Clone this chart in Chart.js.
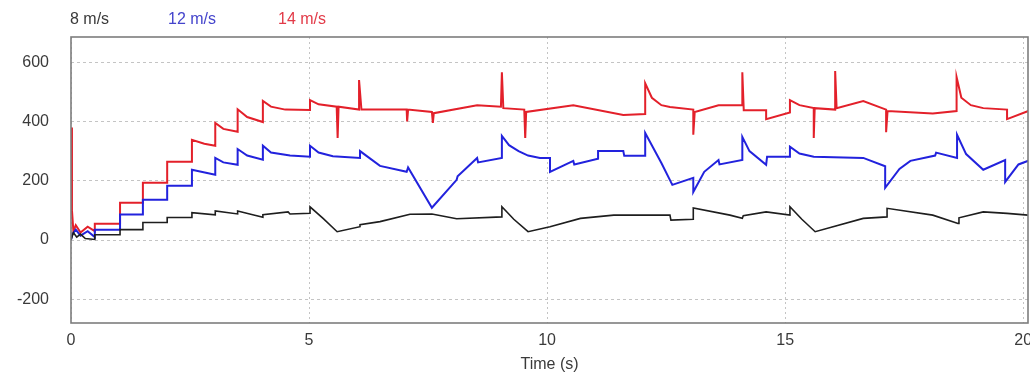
<!DOCTYPE html>
<html>
<head>
<meta charset="utf-8">
<script src="https://cdn.jsdelivr.net/npm/chart.js@4"></script>
<style>
  html, body { margin: 0; padding: 0; background: #fff; }
  #wrap { width: 1030px; height: 374px; }
</style>
</head>
<body>
<div id="wrap"><canvas id="windChart"></canvas></div>
<script>
// valores (tempo em s)
const seriesNames = ['8 m/s', '12 m/s', '14 m/s'];
const xTicks = [0, 5, 10, 15, 20];
const yTicks = [-200, 0, 200, 400, 600];

const t8 = [0, 0.05, 0.12, 0.2, 0.3, 0.5, 0.5, 1.03, 1.03, 1.51, 1.51, 2.02, 2.02, 2.54, 2.54, 3.03, 3.03, 3.5, 3.5, 4.03, 4.03, 4.56, 4.6, 5.02, 5.02, 5.3, 5.59, 6.07, 6.07, 6.49, 7.12, 7.58, 8.1, 9.05, 9.05, 9.3, 9.6, 10.06, 10.7, 11.4, 12.1, 12.58, 12.6, 13.07, 13.07, 13.84, 14.1, 14.12, 14.6, 15.1, 15.1, 15.35, 15.63, 16.64, 17.14, 17.14, 18.1, 18.63, 18.65, 19.16, 19.66, 20.1];
const v8 = [0, 25, 10, 20, 5, 2, 18, 18, 35, 35, 59, 59, 76, 76, 92, 85, 98, 88, 98, 77, 85, 95, 88, 90, 112, 72, 28, 45, 52, 62, 87, 88, 72, 78, 112, 70, 28, 45, 73, 84, 84, 84, 67, 70, 108, 84, 73, 82, 95, 84, 112, 70, 28, 73, 78, 107, 84, 56, 75, 95, 90, 84];

const t12 = [0, 0.03, 0.1, 0.2, 0.35, 0.5, 0.5, 1.03, 1.03, 1.51, 1.51, 2.02, 2.02, 2.54, 2.54, 3.03, 3.03, 3.2, 3.5, 3.5, 3.7, 4.03, 4.03, 4.2, 4.6, 5.02, 5.02, 5.2, 5.5, 6.07, 6.07, 6.49, 7.05, 7.08, 7.58, 8.1, 8.12, 8.53, 8.55, 9.05, 9.05, 9.2, 9.4, 9.6, 9.85, 10.06, 10.06, 10.55, 10.57, 11.07, 11.07, 11.6, 11.62, 12.06, 12.06, 12.4, 12.63, 13.07, 13.07, 13.3, 13.6, 13.62, 14.1, 14.1, 14.25, 14.6, 14.62, 15.1, 15.1, 15.3, 15.6, 16.64, 17.1, 17.1, 17.4, 17.63, 18.15, 18.17, 18.61, 18.61, 18.8, 19.16, 19.62, 19.62, 19.9, 20.15];
const v12 = [0, 20, 35, 15, 30, 10, 35, 35, 86, 86, 136, 136, 183, 183, 237, 220, 277, 262, 254, 307, 285, 271, 318, 295, 285, 281, 318, 295, 283, 277, 300, 250, 230, 245, 109, 203, 215, 277, 262, 277, 351, 320, 300, 285, 277, 277, 230, 267, 255, 274, 300, 300, 284, 284, 361, 260, 186, 210, 162, 230, 270, 255, 270, 348, 300, 254, 281, 281, 315, 292, 281, 277, 249, 176, 240, 267, 285, 295, 277, 355, 290, 237, 270, 196, 255, 270];

const t14 = [0, 0.02, 0.05, 0.1, 0.2, 0.35, 0.5, 0.5, 1.03, 1.03, 1.51, 1.51, 2.02, 2.02, 2.54, 2.54, 2.8, 3.03, 3.03, 3.2, 3.5, 3.5, 3.7, 4.03, 4.03, 4.2, 4.5, 5.02, 5.02, 5.2, 5.58, 5.6, 5.62, 6.05, 6.05, 6.1, 7.05, 7.06, 7.08, 7.58, 7.6, 7.62, 8.53, 9.03, 9.05, 9.08, 9.52, 9.54, 9.56, 10.55, 11.6, 12.06, 12.06, 12.2, 12.4, 12.58, 13.07, 13.07, 13.1, 13.6, 14.1, 14.1, 14.13, 14.6, 14.6, 15.1, 15.1, 15.3, 15.6, 15.6, 15.62, 16.05, 16.05, 16.08, 16.64, 17.12, 17.12, 17.15, 18.1, 18.6, 18.6, 18.7, 18.9, 19.16, 19.66, 19.66, 20.15];
const v14 = [380, 100, 30, 50, 25, 45, 30, 55, 55, 126, 126, 193, 193, 264, 264, 338, 325, 318, 395, 375, 365, 441, 415, 398, 469, 450, 440, 439, 472, 458, 450, 344, 450, 440, 540, 440, 440, 400, 440, 432, 395, 428, 455, 450, 566, 445, 440, 344, 432, 455, 422, 425, 529, 480, 455, 449, 440, 355, 432, 455, 455, 566, 438, 438, 408, 430, 472, 455, 445, 344, 445, 440, 570, 445, 469, 440, 364, 435, 427, 435, 550, 480, 455, 445, 440, 408, 438];

const colors = ['#1e1e1e', '#2222dd', '#e3202a'];
const labelColors = ['#3a3a3a', '#4444cc', '#e23a48'];

function pts(t, v) {
    return t.map((x, i) => ({ x: x, y: v[i] }));
}

// legenda só com texto, como na figura
const textLegend = {
    id: 'textLegend',
    afterDraw(chart) {
        const ctx = chart.ctx;
        ctx.save();
        ctx.font = '16px "Liberation Sans", Arial, sans-serif';
        ctx.textBaseline = 'middle';
        const xs = [70, 168, 278];
        seriesNames.forEach((name, i) => {
            ctx.fillStyle = labelColors[i];
            ctx.fillText(name, xs[i], 20);
        });
        ctx.restore();
    }
};

// moldura cinza em volta da área do gráfico
const frame = {
    id: 'frame',
    afterDatasetsDraw(chart) {
        const a = chart.chartArea;
        const ctx = chart.ctx;
        ctx.save();
        ctx.strokeStyle = '#7d7d7d';
        ctx.lineWidth = 1.6;
        ctx.strokeRect(a.left, a.top, a.right - a.left, a.bottom - a.top);
        ctx.restore();
    }
};

const ctx = document.getElementById('windChart').getContext('2d');
new Chart(ctx, {
    type: 'line',
    data: {
        datasets: [
            { label: seriesNames[0], data: pts(t8, v8), borderColor: colors[0], borderWidth: 1.6 },
            { label: seriesNames[1], data: pts(t12, v12), borderColor: colors[1] },
            { label: seriesNames[2], data: pts(t14, v14), borderColor: colors[2] }
        ]
    },
    options: {
        responsive: true,
        maintainAspectRatio: false,
        animation: false,
        layout: { padding: { top: 37, right: 2, left: 0, bottom: 0 } },
        elements: {
            point: { radius: 0 },
            line: { borderWidth: 2, tension: 0 }
        },
        plugins: {
            legend: { display: false },
            tooltip: { enabled: false }
        },
        scales: {
            x: {
                type: 'linear',
                min: 0,
                max: 20.1,
                afterBuildTicks: s => { s.ticks = xTicks.map(v => ({ value: v })); },
                afterFit: s => { s.height = 51; s.paddingLeft = 0; s.paddingRight = 0; },
                grid: { color: '#c4c4c4', drawTicks: false },
                border: { display: false, dash: [2, 3] },
                ticks: {
                    padding: 8,
                    color: '#3a3a3a',
                    font: { family: '"Liberation Sans Narrow", "Liberation Sans", sans-serif', size: 16 }
                },
                title: {
                    display: true,
                    text: 'Time (s)',
                    color: '#3a3a3a',
                    padding: { top: 0, bottom: 0 },
                    font: { family: '"Liberation Sans Narrow", "Liberation Sans", sans-serif', size: 16 }
                }
            },
            y: {
                min: -280,
                max: 685,
                afterBuildTicks: s => { s.ticks = yTicks.map(v => ({ value: v })); },
                afterFit: s => { s.width = 71; },
                grid: { color: '#c4c4c4', drawTicks: false },
                border: { display: false, dash: [3, 3] },
                ticks: {
                    padding: 22,
                    color: '#3a3a3a',
                    font: { family: '"Liberation Sans", Arial, sans-serif', size: 16 }
                }
            }
        }
    },
    plugins: [textLegend, frame]
});
</script>
</body>
</html>
